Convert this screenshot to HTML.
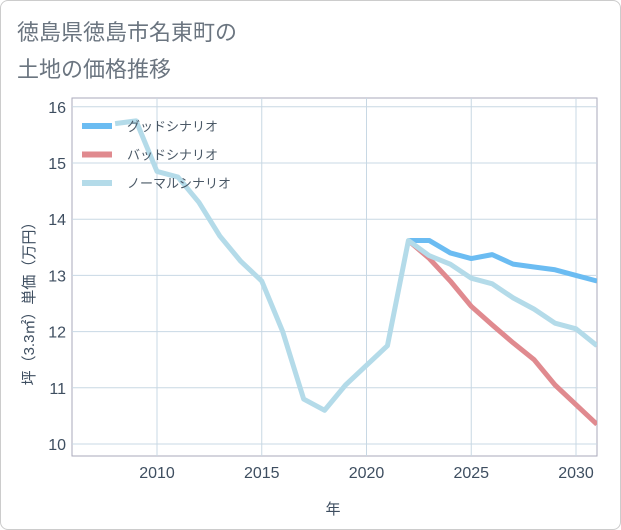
<!DOCTYPE html>
<html><head><meta charset="utf-8"><style>
body{margin:0;background:#fff;font-family:"Liberation Sans","Noto Sans CJK JP",sans-serif;}
#wrap{position:relative;width:619px;height:528px;border:1px solid #ccc;border-radius:8px;background:#fff;overflow:hidden}
</style></head><body>
<div id="wrap">
<svg id="chart" width="621" height="530" style="position:absolute;left:-1px;top:-1px"></svg>
</div>
<script>
const years=[2008,2009,2010,2011,2012,2013,2014,2015,2016,2017,2018,2019,2020,2021,2022,2023,2024,2025,2026,2027,2028,2029,2030,2031];
const normal=[15.7,15.75,14.85,14.75,14.3,13.7,13.25,12.9,12.0,10.8,10.6,11.05,11.4,11.75,13.62,13.35,13.2,12.95,12.85,12.6,12.4,12.15,12.05,11.75];
const goodYears=[2022,2023,2024,2025,2026,2027,2028,2029,2030,2031];
const good=[13.62,13.62,13.4,13.3,13.37,13.2,13.15,13.1,13.0,12.9];
const bad=[13.62,13.3,12.9,12.45,12.12,11.8,11.5,11.05,10.7,10.35];
const xTicks=[2010,2015,2020,2025,2030];
const yTicks=[10,11,12,13,14,15,16];
const NS="http://www.w3.org/2000/svg",svg=document.getElementById('chart');
const L=72,R=597,T=98,B=456;
const x=v=>157+(v-2010)*20.95;
const y=v=>444-(v-10)*56.2;
function el(t,a,p){const e=document.createElementNS(NS,t);for(const k in a)e.setAttribute(k,a[k]);(p||svg).appendChild(e);return e;}
function txt(s,a,name){const e=el('text',a);e.textContent=s;return e;}
txt('徳島県徳島市名東町の',{x:17,y:40,'font-size':22,fill:'#6b7580'},'title-line1');
txt('土地の価格推移',{x:17,y:77,'font-size':22,fill:'#6b7580'},'title-line2');
el('rect',{x:L,y:T,width:R-L,height:B-T,fill:'#fff',stroke:'#aab','stroke-width':1});
xTicks.forEach(v=>{const g=el('line',{x1:x(v),x2:x(v),y1:T,y2:B,stroke:'#c8d8e4'});
txt(String(v),{x:x(v),y:478,'font-size':16,fill:'#3e4e60','text-anchor':'middle'},'x-tick-label');});
yTicks.forEach(v=>{const g=el('line',{x1:L,x2:R,y1:y(v),y2:y(v),stroke:'#c8d8e4'});
txt(String(v),{x:66,y:y(v)+6,'font-size':16,fill:'#3e4e60','text-anchor':'end'},'y-tick-label');});
txt('年',{x:333,y:514,'font-size':15,fill:'#3e4e60','text-anchor':'middle'},'x-axis-title');
txt('坪（3.3㎡）単価（万円）',{x:0,y:0,'font-size':15,fill:'#3e4e60','text-anchor':'middle',transform:'translate(34,300) rotate(-90)'},'y-axis-title');
const clip=el('clipPath',{id:'c'});el('rect',{x:L,y:T,width:R-L,height:B-T},clip);
function line(xs,ys,c,name){const p=el('polyline',{points:xs.map((v,i)=>x(v)+','+y(ys[i])).join(' '),fill:'none',stroke:c,'stroke-width':5,'stroke-linejoin':'round','clip-path':'url(#c)'});}
line(goodYears,bad,'#e08a8f','bad-scenario-line');
line(goodYears,good,'#6bbcf2','good-scenario-line');
line(years,normal,'#b4dbe9','normal-scenario-line');
[['グッドシナリオ','#6bbcf2'],['バッドシナリオ','#e08a8f'],['ノーマルシナリオ','#b4dbe9']].forEach((d,i)=>{
const yy=126+i*28.5;const r=el('rect',{x:82,y:yy-3,width:30,height:6,fill:d[1]});
txt(d[0],{x:127,y:yy+5,'font-size':13,fill:'#4a5866'},'legend-entry');});
</script>
</body></html>
